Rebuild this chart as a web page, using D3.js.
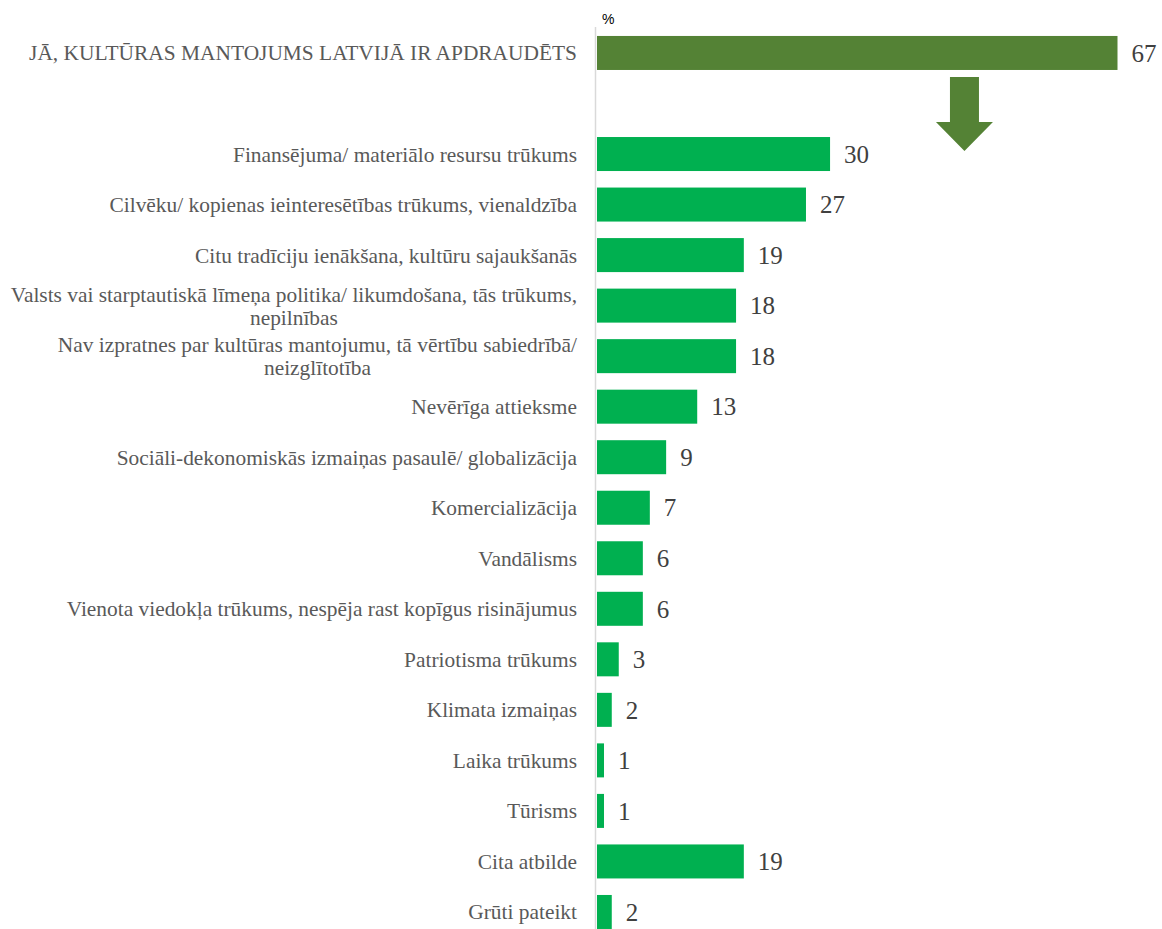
<!DOCTYPE html>
<html>
<head>
<meta charset="utf-8">
<script src="https://cdn.jsdelivr.net/npm/d3@7"></script>
<style>
    html, body { margin: 0; padding: 0; background: #fff; }
    svg { display: block; }
</style>
</head>
<body>
<svg id="chart" width="1162" height="929"></svg>
<script>
// kopējais jautājums (augšējā josla)
const totalLabel = ["JĀ, KULTŪRAS MANTOJUMS LATVIJĀ IR APDRAUDĒTS"];
const totalValue = [67.0];

// iemesli
const categories = [
    "Finansējuma/ materiālo resursu trūkums",
    "Cilvēku/ kopienas ieinteresētības trūkums, vienaldzība",
    "Citu tradīciju ienākšana, kultūru sajaukšanās",
    "Valsts vai starptautiskā līmeņa politika/ likumdošana, tās trūkums, nepilnības",
    "Nav izpratnes par kultūras mantojumu, tā vērtību sabiedrībā/ neizglītotība",
    "Nevērīga attieksme",
    "Sociāli-dekonomiskās izmaiņas pasaulē/ globalizācija",
    "Komercializācija",
    "Vandālisms",
    "Vienota viedokļa trūkums, nespēja rast kopīgus risinājumus",
    "Patriotisma trūkums",
    "Klimata izmaiņas",
    "Laika trūkums",
    "Tūrisms",
    "Cita atbilde",
    "Grūti pateikt"
];
const values = [30.0, 26.9, 18.9, 17.9, 17.9, 12.9, 8.9, 6.8, 5.9, 5.9, 2.8, 1.9, 0.9, 0.9, 18.9, 1.9];

const unitLabel = "%";

const svg = d3.select("#chart");

// rindas: kopējā, tukša atstarpe, iemesli
const rows = totalLabel.concat(["__gap__"], categories);
const rowValues = totalValue.concat([null], values);

const step = 50.53;
const top0 = 27.7;

const x = d3.scaleLinear().domain([0, 67]).range([597, 1117.5]);
const y = d3.scaleBand()
    .domain(rows)
    .range([top0, top0 + step * rows.length])
    .paddingInner(0.327)
    .paddingOuter(0.1635);

const data = rows.map((r, i) => ({label: r, value: rowValues[i], total: i === 0}))
    .filter(d => d.value !== null);

// ass
svg.append("line")
    .attr("x1", 595.5).attr("x2", 595.5)
    .attr("y1", 27).attr("y2", 929)
    .attr("stroke", "#d9d9d9")
    .attr("stroke-width", 1.5);

svg.append("text")
    .attr("x", 602)
    .attr("y", 24)
    .attr("font-family", "Liberation Sans, Arial, sans-serif")
    .attr("font-size", 14)
    .attr("fill", "#000")
    .text(unitLabel);

// joslas
svg.append("g").selectAll("rect")
    .data(data)
    .enter().append("rect")
    .attr("x", x(0))
    .attr("y", d => y(d.label))
    .attr("width", d => x(d.value) - x(0))
    .attr("height", y.bandwidth())
    .attr("fill", d => d.total ? "#548235" : "#00b050");

// vērtības
svg.append("g").selectAll("text")
    .data(data)
    .enter().append("text")
    .attr("x", d => x(d.value) + 14)
    .attr("y", d => y(d.label) + y.bandwidth() / 2)
    .attr("dy", "0.35em")
    .attr("font-family", "Liberation Serif, 'Times New Roman', serif")
    .attr("font-size", 25)
    .attr("fill", "#404040")
    .text(d => d3.format(".0f")(d.value));

// kategoriju nosaukumi ar pārnešanu
const labelRight = 577;
const maxLabelWidth = 575;
const lineHeight = 23;

const labelG = svg.append("g")
    .attr("font-family", "Liberation Serif, 'Times New Roman', serif")
    .attr("font-size", 21.4)
    .attr("fill", "#595959");

data.forEach(d => {
    const t = labelG.append("text");
    const words = d.label.split(" ");
    const lines = [];
    let line = [];
    const probe = t.append("tspan");
    words.forEach(w => {
        line.push(w);
        probe.text(line.join(" "));
        if (probe.node().getComputedTextLength() > maxLabelWidth && line.length > 1) {
            line.pop();
            lines.push(line.join(" "));
            line = [w];
        }
    });
    lines.push(line.join(" "));
    probe.remove();

    const cy = y(d.label) + y.bandwidth() / 2;
    const widths = lines.map(l => {
        const s = t.append("tspan").text(l);
        const w = s.node().getComputedTextLength();
        s.remove();
        return w;
    });
    const blockW = d3.max(widths);
    const cx = labelRight - blockW / 2;
    lines.forEach((l, i) => {
        t.append("tspan")
            .attr("x", lines.length > 1 ? cx : labelRight)
            .attr("y", cy + (i - (lines.length - 1) / 2) * lineHeight)
            .attr("dy", "0.35em")
            .attr("text-anchor", lines.length > 1 ? "middle" : "end")
            .text(l);
    });
});

// bulta no kopējās joslas uz iemesliem
const arrowX = x(47.3);
const arrowTop = y(rows[0]) + y.bandwidth() + 7;
const arrowTip = y(rows[2]) + 14;
const headH = 29, shaftW = 29, headW = 57;
const arrowPath = d3.path();
arrowPath.moveTo(arrowX - shaftW / 2, arrowTop);
arrowPath.lineTo(arrowX + shaftW / 2, arrowTop);
arrowPath.lineTo(arrowX + shaftW / 2, arrowTip - headH);
arrowPath.lineTo(arrowX + headW / 2, arrowTip - headH);
arrowPath.lineTo(arrowX, arrowTip);
arrowPath.lineTo(arrowX - headW / 2, arrowTip - headH);
arrowPath.lineTo(arrowX - shaftW / 2, arrowTip - headH);
arrowPath.closePath();

svg.append("path")
    .attr("d", arrowPath.toString())
    .attr("fill", "#548235");
</script>
</body>
</html>
